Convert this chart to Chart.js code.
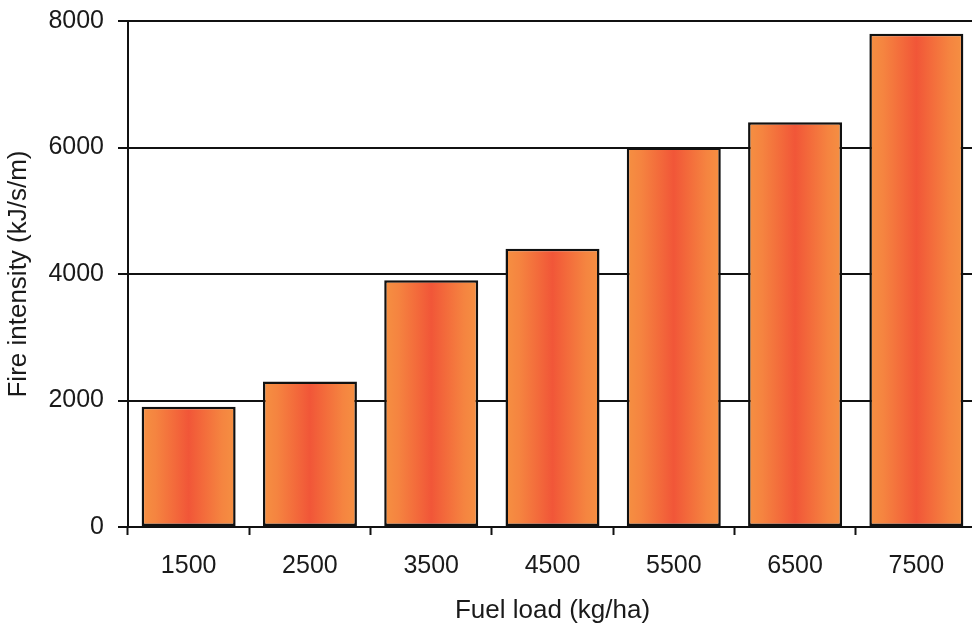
<!DOCTYPE html>
<html>
<head>
<meta charset="utf-8">
<script src="https://cdn.jsdelivr.net/npm/chart.js@4/dist/chart.umd.min.js"></script>
<style>
  html, body { margin: 0; padding: 0; background: #ffffff; overflow: hidden; }
  #wrap { width: 980px; height: 623px; }
</style>
</head>
<body>
<div id="wrap"><canvas id="c" width="980" height="623"></canvas></div>
<script>
// Fuel load classes (kg/ha) and resulting fire intensity (kJ/s/m)
const fuelLoads = ['1500', '2500', '3500', '4500', '5500', '6500', '7500'];
const fireIntensity = [1900, 2300, 3900, 4400, 6000, 6400, 7800];
const yTicks = [0, 2000, 4000, 6000, 8000];

const BAR_PCT = 0.775;
const FONT = '"Liberation Sans", Arial, sans-serif';
const TEXT = '#1a1a1a';

// Horizontal orange -> red -> orange fill for each bar
function barFill(ctx) {
  const chart = ctx.chart;
  const xs = chart.scales && chart.scales.x;
  if (!xs || !chart.chartArea || ctx.dataIndex === undefined) return '#f26a36';
  const cx = xs.getPixelForValue(ctx.dataIndex);
  const w = (xs.width / fuelLoads.length) * BAR_PCT;
  const g = chart.ctx.createLinearGradient(cx - w / 2, 0, cx + w / 2, 0);
  g.addColorStop(0, '#f59042');
  g.addColorStop(0.15, '#f58440');
  g.addColorStop(0.35, '#f36a3b');
  g.addColorStop(0.5, '#f15638');
  g.addColorStop(0.65, '#f36a3b');
  g.addColorStop(0.85, '#f58440');
  g.addColorStop(1, '#f59042');
  return g;
}

new Chart(document.getElementById('c'), {
  type: 'bar',
  data: {
    labels: fuelLoads,
    datasets: [{
      data: fireIntensity,
      backgroundColor: barFill,
      borderColor: '#111111',
      borderWidth: 2.5,
      borderSkipped: false,
      barPercentage: BAR_PCT,
      categoryPercentage: 1
    }]
  },
  options: {
    responsive: false,
    animation: false,
    devicePixelRatio: 1,
    layout: { padding: { top: 21, right: 3, bottom: 0, left: 0 } },
    plugins: { legend: { display: false }, tooltip: { enabled: false } },
    scales: {
      x: {
        offset: true,
        grid: {
          offset: true,
          drawOnChartArea: false,
          drawTicks: true,
          tickLength: 8,
          tickWidth: 2,
          tickColor: '#111111'
        },
        border: { display: true, color: '#111111', width: 2 },
        ticks: {
          color: TEXT,
          padding: 16,
          maxRotation: 0,
          font: { family: FONT, size: 25 }
        },
        title: {
          display: true,
          text: 'Fuel load (kg/ha)',
          color: TEXT,
          padding: { top: 0, bottom: -3 },
          font: { family: FONT, size: 26 }
        },
        afterFit: (s) => { s.height = 96; s.paddingLeft = 0; s.paddingRight = 0; }
      },
      y: {
        min: 0,
        max: 8000,
        afterBuildTicks: (s) => { s.ticks = yTicks.map(v => ({ value: v })); },
        grid: {
          color: '#111111',
          lineWidth: 2,
          tickLength: 10,
          tickWidth: 2,
          tickColor: '#111111'
        },
        border: { display: true, color: '#111111', width: 2 },
        ticks: {
          color: TEXT,
          padding: 14,
          font: { family: FONT, size: 25 },
          callback: (v) => String(v)
        },
        title: {
          display: true,
          text: 'Fire intensity (kJ/s/m)',
          color: TEXT,
          padding: { top: 3, bottom: 0 },
          font: { family: FONT, size: 26 }
        },
        afterFit: (s) => { s.width = 128; s.paddingTop = 0; s.paddingBottom = 0; }
      }
    }
  }
});
</script>
</body>
</html>
